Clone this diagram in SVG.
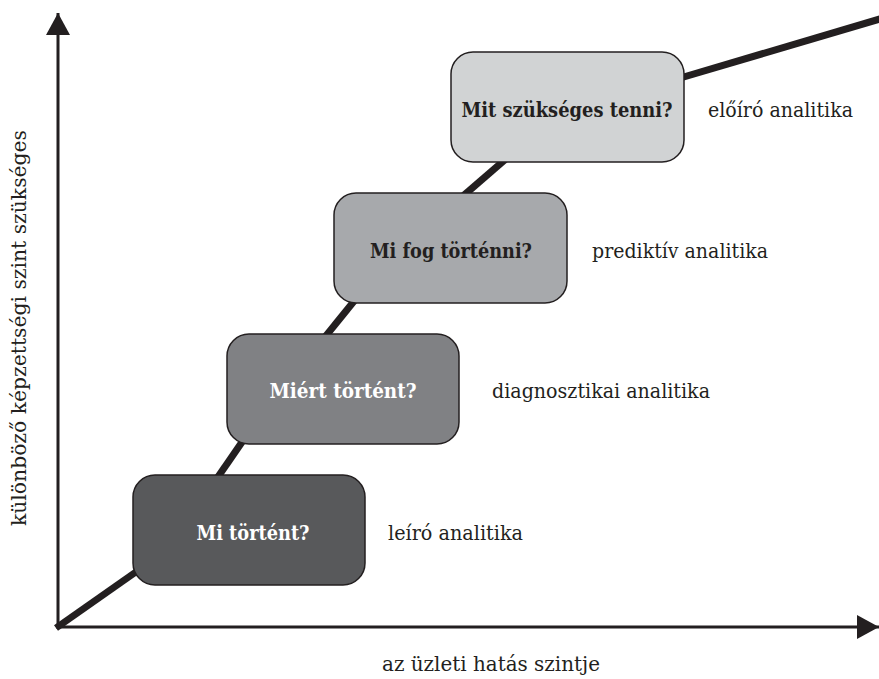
<svg xmlns="http://www.w3.org/2000/svg" width="879" height="679" viewBox="0 0 879 679">
  <defs>
    <marker id="arrow" viewBox="0 0 22 24" refX="22" refY="12" markerWidth="22" markerHeight="24" markerUnits="userSpaceOnUse" orient="auto">
      <polygon points="0,0 22,12 0,24" fill="#231f20"/>
    </marker>
    <style>
      .axis { stroke: #231f20; stroke-width: 3; fill: none; }
      .trend { stroke: #231f20; stroke-width: 7; fill: none; stroke-linecap: butt; }
      .box { stroke: #231f20; stroke-width: 1.5; }
      .q { font-family: "DejaVu Serif", "Liberation Serif", serif; font-weight: bold; font-size: 20px; text-anchor: middle; }
      .lbl { font-family: "DejaVu Serif", "Liberation Serif", serif; font-size: 20px; fill: #231f20; }
      .dark { fill: #231f20; }
      .light { fill: #ffffff; }
    </style>
  </defs>

  <rect width="879" height="679" fill="#ffffff"/>

  <!-- axes and rising trend line -->
  <g id="connectors">
    <line class="axis" x1="58" y1="628" x2="58" y2="13" marker-end="url(#arrow)"/>
    <line class="axis" x1="56" y1="627" x2="879" y2="627" marker-end="url(#arrow)"/>
    <line class="trend" x1="56" y1="628" x2="180" y2="541"/>
    <line class="trend" x1="200" y1="503" x2="262" y2="413"/>
    <line class="trend" x1="312" y1="353" x2="372" y2="279"/>
    <line class="trend" x1="448" y1="209" x2="522" y2="145"/>
    <line class="trend" x1="660" y1="84" x2="890" y2="16"/>
  </g>

  <g id="node-descriptive">
    <rect class="box" x="133" y="475" width="232" height="110" rx="22" fill="#58595b"/>
    <text class="q light" x="253" y="540" textLength="113" lengthAdjust="spacingAndGlyphs">Mi történt?</text>
    <text class="lbl" x="388" y="540" textLength="135" lengthAdjust="spacingAndGlyphs">leíró analitika</text>
  </g>

  <g id="node-diagnostic">
    <rect class="box" x="227" y="334" width="232" height="110" rx="22" fill="#808184"/>
    <text class="q light" x="343" y="398" textLength="147" lengthAdjust="spacingAndGlyphs">Miért történt?</text>
    <text class="lbl" x="492" y="398" textLength="218" lengthAdjust="spacingAndGlyphs">diagnosztikai analitika</text>
  </g>

  <g id="node-predictive">
    <rect class="box" x="334" y="193" width="233" height="110" rx="22" fill="#a7a9ac"/>
    <text class="q dark" x="451" y="258" textLength="162" lengthAdjust="spacingAndGlyphs">Mi fog történni?</text>
    <text class="lbl" x="592" y="258" textLength="176" lengthAdjust="spacingAndGlyphs">prediktív analitika</text>
  </g>

  <g id="node-prescriptive">
    <rect class="box" x="451" y="52" width="233" height="110" rx="22" fill="#d1d3d4"/>
    <text class="q dark" x="567" y="117" textLength="211" lengthAdjust="spacingAndGlyphs">Mit szükséges tenni?</text>
    <text class="lbl" x="708" y="117" textLength="145" lengthAdjust="spacingAndGlyphs">előíró analitika</text>
  </g>

  <g id="axis-labels">
    <text class="lbl" x="382" y="671" textLength="218" lengthAdjust="spacingAndGlyphs">az üzleti hatás szintje</text>
    <text class="lbl" x="0" y="0" transform="translate(26,526) rotate(-90)" textLength="396" lengthAdjust="spacingAndGlyphs">különböző képzettségi szint szükséges</text>
  </g>
</svg>
